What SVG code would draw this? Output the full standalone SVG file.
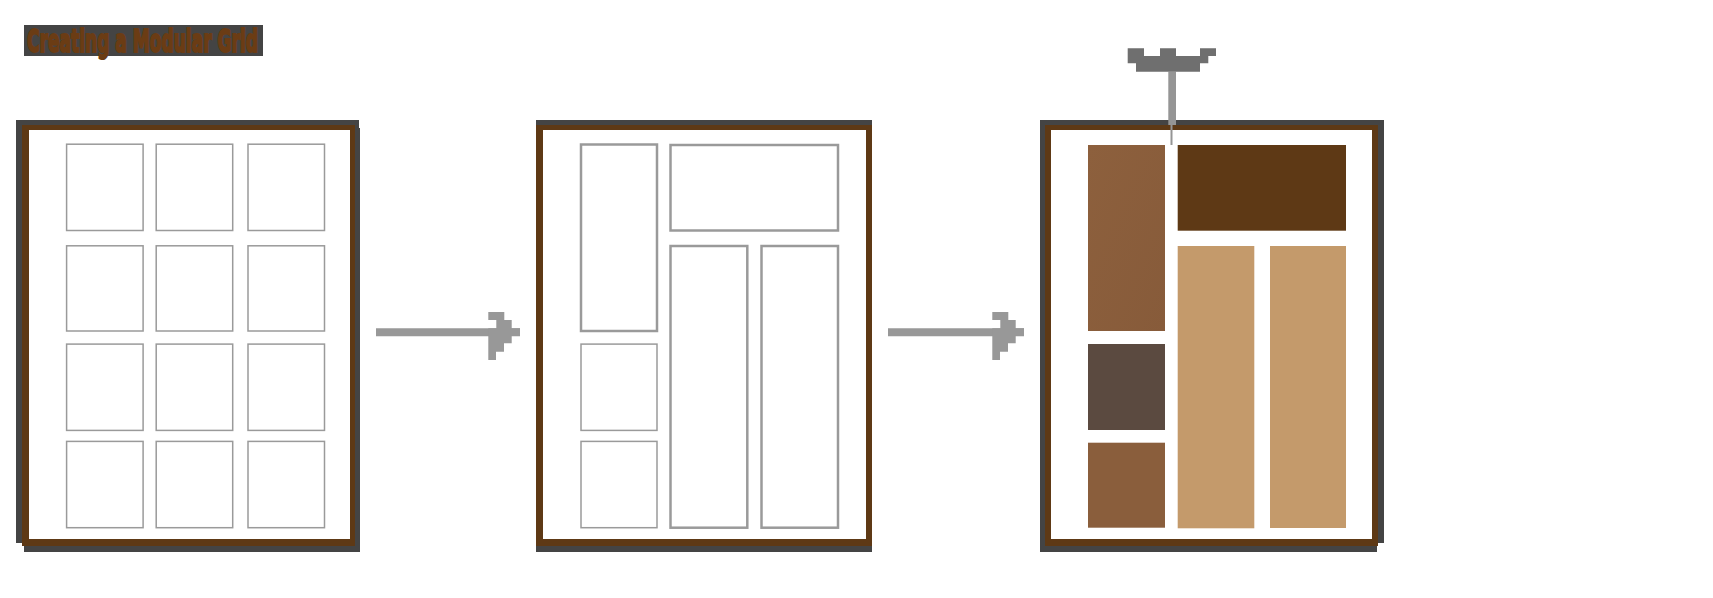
<svg xmlns="http://www.w3.org/2000/svg" width="1713" height="598" viewBox="0 0 1713 598">
<style>
.dark{fill:#444444}
.brown{fill:#5e3915}
.paper{fill:#ffffff}
.cell{fill:none;stroke:#9a9a9a;stroke-width:1.5}
.cellb{fill:none;stroke:#9a9a9a;stroke-width:2.5}
.conn{stroke:#989898;stroke-width:8;fill:none}
</style>
<defs>
<marker id="head" markerUnits="userSpaceOnUse" viewBox="0 0 32 48.3" markerWidth="32" markerHeight="48.3" refX="31.7" refY="20.5" orient="auto">
<path d="M0,0 H16 V8.3 H23.4 V16.6 H32 V24.3 H23.4 V31.6 H15.7 V40 H7.7 V48.3 H0 V16.6 H8 V8.3 H0 Z" fill="#989898"/>
</marker>
<linearGradient id="g1" x1="0" y1="0" x2="1" y2="1">
<stop offset="0" stop-color="#8d603d"/>
<stop offset="1" stop-color="#875b3a"/>
</linearGradient>
</defs>
<rect width="1713" height="598" fill="#ffffff"/>

<g id="title">
<rect x="24" y="25" width="239" height="31" class="dark"/>
<text x="27" y="52" font-family="'DejaVu Sans Condensed','Liberation Sans',sans-serif" font-weight="bold" font-size="32" textLength="231" lengthAdjust="spacingAndGlyphs" fill="#6b3c14" stroke="#6b3c14" stroke-width="2" stroke-linejoin="miter">Creating a Modular Grid</text>
</g>

<g id="frame1">
<rect x="16" y="120" width="343" height="423" class="dark"/>
<rect x="24" y="128" width="336" height="424" class="dark"/>
<rect x="22" y="125" width="333" height="421" class="brown"/>
<rect x="29" y="130" width="321" height="409" class="paper"/>
<rect x="66.6" y="144.2" width="76.5" height="86.3" class="cell"/>
<rect x="156.2" y="144.2" width="76.5" height="86.3" class="cell"/>
<rect x="248" y="144.2" width="76.5" height="86.3" class="cell"/>
<rect x="66.6" y="245.8" width="76.5" height="85.2" class="cell"/>
<rect x="156.2" y="245.8" width="76.5" height="85.2" class="cell"/>
<rect x="248" y="245.8" width="76.5" height="85.2" class="cell"/>
<rect x="66.6" y="344.1" width="76.5" height="86.3" class="cell"/>
<rect x="156.2" y="344.1" width="76.5" height="86.3" class="cell"/>
<rect x="248" y="344.1" width="76.5" height="86.3" class="cell"/>
<rect x="66.6" y="441.4" width="76.5" height="86.3" class="cell"/>
<rect x="156.2" y="441.4" width="76.5" height="86.3" class="cell"/>
<rect x="248" y="441.4" width="76.5" height="86.3" class="cell"/>
</g>

<g id="frame2">
<rect x="536" y="120" width="336" height="432" class="dark"/>
<rect x="536" y="125" width="336" height="421" class="brown"/>
<rect x="543" y="130" width="323" height="409" class="paper"/>
<rect x="581" y="144.5" width="76" height="186.5" class="cellb"/>
<rect x="581" y="344.1" width="76" height="86.3" class="cell"/>
<rect x="581" y="441.4" width="76" height="86.3" class="cell"/>
<rect x="670.5" y="145" width="167.5" height="85.5" class="cellb"/>
<rect x="670.5" y="246" width="76.8" height="281.7" class="cellb"/>
<rect x="761.5" y="246" width="76.5" height="281.7" class="cellb"/>
</g>

<g id="frame3">
<rect x="1040" y="120" width="344" height="423" class="dark"/>
<rect x="1040" y="120" width="337" height="432" class="dark"/>
<rect x="1045" y="125" width="333" height="421" class="brown"/>
<rect x="1051" y="130" width="321" height="409" class="paper"/>
<rect x="1088" y="145" width="77" height="186" fill="url(#g1)"/>
<rect x="1088" y="344" width="77" height="86" fill="#5b4a40"/>
<rect x="1088" y="442.7" width="77" height="85" fill="#8a5e3c"/>
<rect x="1177.7" y="145" width="168.3" height="85.7" fill="#5e3915"/>
<rect x="1177.7" y="246" width="76.6" height="282.3" fill="#c49a6b"/>
<rect x="1270" y="246" width="76" height="282" fill="#c49a6b"/>
</g>

<g id="connectors">
<line x1="376" y1="332.2" x2="520" y2="332.2" class="conn" marker-end="url(#head)"/>
<line x1="888" y1="332.2" x2="1024" y2="332.2" class="conn" marker-end="url(#head)"/>
<g id="pin">
<rect x="1170.5" y="120" width="2" height="25" fill="#959595"/>
<rect x="1168.3" y="71.7" width="7.7" height="53.3" fill="#959595"/>
<path d="M1127.7,48.3 H1144 V56 H1160 V48.3 H1176 V56 H1200 V48.3 H1216 V56 H1208.3 V63.3 H1200 V71.7 H1136 V63.3 H1127.7 Z" fill="#6f6f6f"/>
</g>
</g>
</svg>
